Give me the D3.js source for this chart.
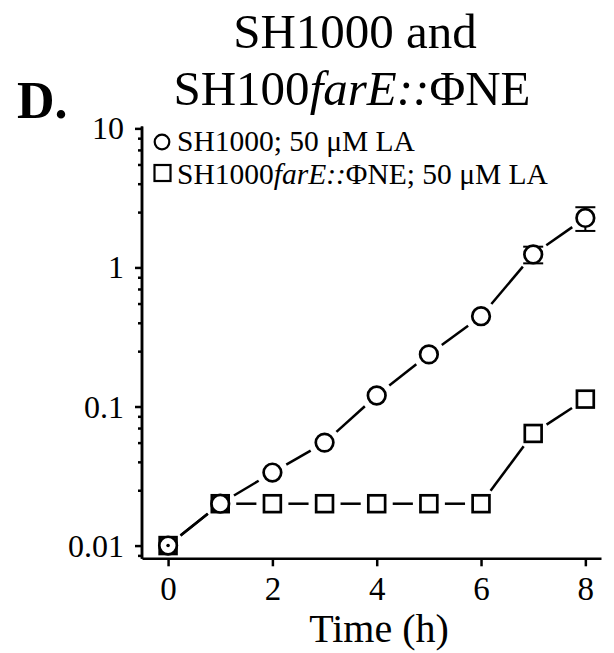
<!DOCTYPE html>
<html>
<head>
<meta charset="utf-8">
<script src="https://cdn.jsdelivr.net/npm/d3@7"></script>
<style>
  body { margin: 0; background: #fff; }
  svg { display: block; }
  text { font-family: "Liberation Serif", "Times New Roman", serif; fill: #000; }
</style>
</head>
<body>
<svg id="chart" width="614" height="653"></svg>
<script>
// Growth time course (log scale), two strains with 50 µM linoleic acid
const hours = [0, 1, 2, 3, 4, 5, 6, 7, 8];
const wildTypeMean = [0.01, 0.02, 0.0335, 0.055, 0.12, 0.237, 0.446, 1.24, 2.27];
const wildTypeSD   = [0, 0, 0, 0, 0, 0, 0, 0.17, 0.44];
const mutantMean   = [0.01, 0.02, 0.02, 0.02, 0.02, 0.02, 0.02, 0.064, 0.113];
const mutantSD     = [0, 0, 0, 0, 0, 0, 0, 0, 0];

const yMajorTicks = [0.01, 0.1, 1, 10];
const yMinorTicks = [0.0085,
  0.025, 0.04, 0.055, 0.07, 0.085,
  0.25, 0.4, 0.55, 0.7, 0.85,
  2.5, 4, 5.5, 7, 8.5];
const xTicks = [0, 2, 4, 6, 8];

const svg = d3.select("#chart");

const x = d3.scaleLinear().domain([-0.5, 8.3]).range([142, 601]);
const y = d3.scaleLog().domain([0.0081, 10.4]).range([558.3, 126]);

const axisStroke = 2.5;

// ---- axes ----
const yMinor = svg.append("g").attr("transform", "translate(141.5,0)")
  .call(d3.axisLeft(y).tickValues(yMinorTicks).tickSize(3.5).tickSizeOuter(0).tickFormat(""));
const yMajor = svg.append("g").attr("transform", "translate(141.5,0)")
  .call(d3.axisLeft(y).tickValues(yMajorTicks).tickSize(6.5).tickSizeOuter(0)
    .tickPadding(11).tickFormat(d3.format("~g")));
const xAxis = svg.append("g").attr("transform", "translate(0,558.3)")
  .call(d3.axisBottom(x).tickValues(xTicks).tickSize(8).tickSizeOuter(0).tickPadding(10));

[yMinor, yMajor, xAxis].forEach(g => {
  g.selectAll("path,line").attr("stroke", "#000").attr("stroke-width", axisStroke);
  g.selectAll("text").style("font-family", '"Liberation Serif", serif').attr("fill", "#000");
});
yMajor.selectAll("text").style("font-size", "32px").attr("dy", "0.33em");
xAxis.selectAll("text").style("font-size", "33px").attr("dy", "0.72em");

// axis title
svg.append("text").attr("x", 379).attr("y", 642).attr("text-anchor", "middle")
  .style("font-size", "40px").text("Time (h)");

// panel letter and title
svg.append("text").attr("x", 17).attr("y", 118).style("font-size", "52px")
  .style("font-weight", "bold").text("D.");
svg.append("text").attr("x", 355).attr("y", 48).attr("text-anchor", "middle")
  .style("font-size", "49px").text("SH1000 and");
const t2 = svg.append("text").attr("x", 352).attr("y", 105).attr("text-anchor", "middle")
  .style("font-size", "49px");
t2.append("tspan").text("SH100");
t2.append("tspan").style("font-style", "italic").text("farE::");
t2.append("tspan").text("ΦNE");

// ---- data ----
const series = [
  { key: "mutant", mean: mutantMean, sd: mutantSD, shape: "square" },
  { key: "wildType", mean: wildTypeMean, sd: wildTypeSD, shape: "circle" }
];

const gap = 16; // distance kept clear between a connecting line and a marker centre
const plot = svg.append("g");

// connecting segments, trimmed short of each marker
series.forEach(s => {
  const pts = hours.map((h, i) => [x(h), y(s.mean[i])]);
  for (let i = 0; i < pts.length - 1; i++) {
    const [x1, y1] = pts[i], [x2, y2] = pts[i + 1];
    const len = Math.hypot(x2 - x1, y2 - y1);
    if (len <= 2 * gap) continue;
    const ux = (x2 - x1) / len, uy = (y2 - y1) / len;
    plot.append("line")
      .attr("x1", x1 + ux * gap).attr("y1", y1 + uy * gap)
      .attr("x2", x2 - ux * gap).attr("y2", y2 - uy * gap)
      .attr("stroke", "#000").attr("stroke-width", 2.5);
  }
});

// error bars
series.forEach(s => {
  hours.forEach((h, i) => {
    if (!s.sd[i]) return;
    const cx = x(h);
    const top = y(s.mean[i] + s.sd[i]), bot = y(s.mean[i] - s.sd[i]);
    plot.append("line").attr("x1", cx).attr("x2", cx).attr("y1", top).attr("y2", bot)
      .attr("stroke", "#000").attr("stroke-width", 2);
    [top, bot].forEach(yy => plot.append("line")
      .attr("x1", cx - 10).attr("x2", cx + 10).attr("y1", yy).attr("y2", yy)
      .attr("stroke", "#000").attr("stroke-width", 2));
  });
});

// markers
const markerStroke = 2.7;
series.forEach(s => {
  hours.forEach((h, i) => {
    const cx = x(h), cy = y(s.mean[i]);
    if (s.shape === "square") {
      plot.append("rect").attr("x", cx - 8.4).attr("y", cy - 8.4)
        .attr("width", 16.8).attr("height", 16.8)
        .attr("fill", "#fff").attr("stroke", "#000").attr("stroke-width", markerStroke);
    } else {
      plot.append("circle").attr("cx", cx).attr("cy", cy).attr("r", 8.8)
        .attr("fill", "#fff").attr("stroke", "#000").attr("stroke-width", markerStroke);
    }
  });
});
// centre dot of the first wild-type point
plot.append("circle").attr("cx", x(hours[0])).attr("cy", y(wildTypeMean[0])).attr("r", 1.8).attr("fill", "#000");

// ---- legend ----
const legend = svg.append("g");
legend.append("circle").attr("cx", 162).attr("cy", 142).attr("r", 7.3)
  .attr("fill", "#fff").attr("stroke", "#000").attr("stroke-width", 2.2);
legend.append("rect").attr("x", 154.5).attr("y", 165).attr("width", 16).attr("height", 16)
  .attr("fill", "#fff").attr("stroke", "#000").attr("stroke-width", 2.2);
legend.append("text").attr("x", 177).attr("y", 151).style("font-size", "29.5px")
  .text("SH1000; 50 μM LA");
const l2 = legend.append("text").attr("x", 177).attr("y", 183.5).style("font-size", "29.5px");
l2.append("tspan").text("SH1000");
l2.append("tspan").style("font-style", "italic").text("farE::");
l2.append("tspan").text("ΦNE; 50 μM LA");
</script>
</body>
</html>
